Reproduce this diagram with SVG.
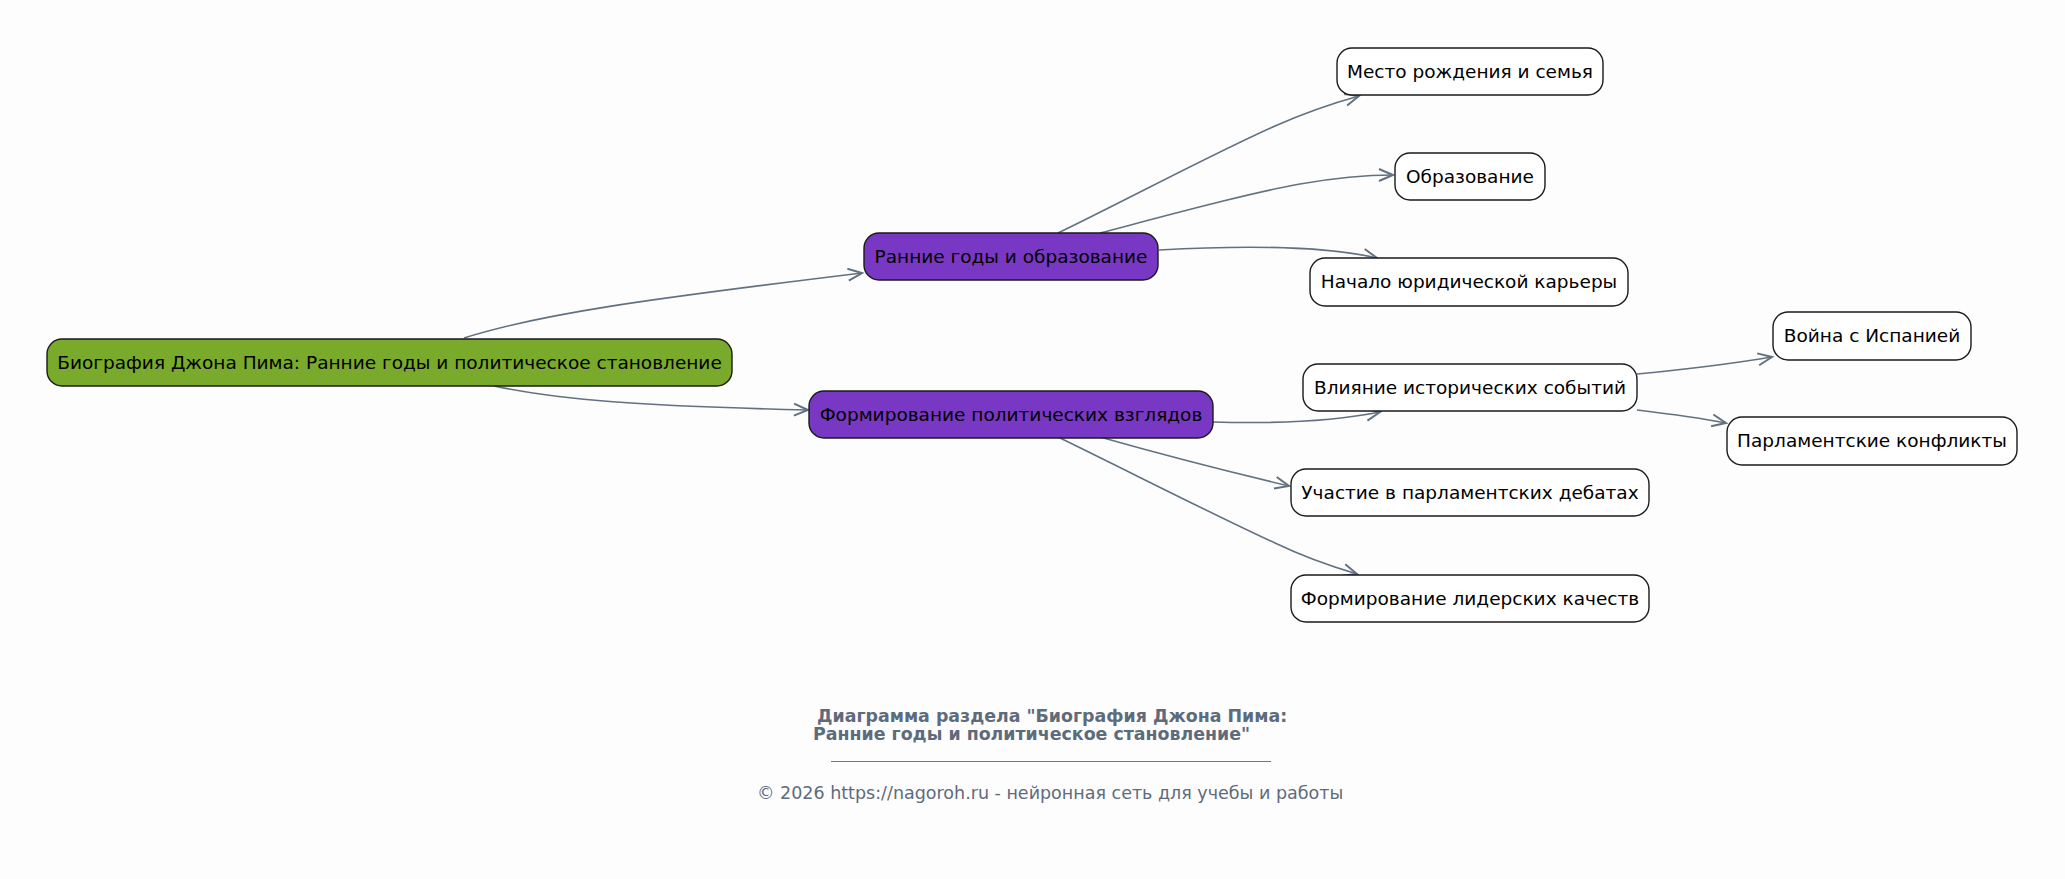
<svg xmlns="http://www.w3.org/2000/svg" width="2065" height="879" viewBox="0 0 2065 879">
<defs>
<style>
.node rect{stroke:#1a1a1a;stroke-width:1.4}
.leaf rect{fill:#ffffff}
.root rect{fill:#79aa2b}
.mid rect{fill:#7838c3}
.node text{font-family:"DejaVu Sans","Noto Sans",sans-serif;font-size:18.5px;fill:#000;text-anchor:middle}
.edges path{fill:none;stroke:#627181;stroke-width:1.6}
.foot{font-family:"DejaVu Sans","Noto Sans",sans-serif;fill:#5d6b7b}
</style>
<marker id="vee" markerUnits="userSpaceOnUse" markerWidth="18" markerHeight="16" refX="15" refY="7" orient="auto" viewBox="0 0 18 14">
<path d="M1,1 L15,7 L1,13" fill="none" stroke="#627181" stroke-width="2" stroke-linejoin="miter"/>
</marker>
</defs>
<rect width="2065" height="879" fill="#fdfdfd"/>
<g class="edges">
<path d="M464,338 C540,314 640,300 862,273" marker-end="url(#vee)"/>
<path d="M494,386 C560,400 640,406 808,410" marker-end="url(#vee)"/>
<path d="M1058,233 C1130,198 1220,150 1275,126 C1300,115 1330,104 1359,96" marker-end="url(#vee)"/>
<path d="M1100,233 C1180,212 1250,193 1300,184 C1340,177 1370,175 1393,175" marker-end="url(#vee)"/>
<path d="M1159,250 C1230,246 1320,245 1377,258" marker-end="url(#vee)"/>
<path d="M1213,422 C1280,424 1340,420 1380,412" marker-end="url(#vee)"/>
<path d="M1100,437 C1160,454 1230,472 1289,486" marker-end="url(#vee)"/>
<path d="M1058,437 C1130,472 1220,518 1275,543 C1300,555 1330,566 1357,574" marker-end="url(#vee)"/>
<path d="M1637,374 C1690,369 1730,364 1772,357" marker-end="url(#vee)"/>
<path d="M1637,410 C1670,414 1700,418 1726,423" marker-end="url(#vee)"/>
</g>
<g id="root" class="node root"><rect x="47" y="339" width="685" height="47" rx="15"/><text x="389.5" y="368.5">Биография Джона Пима: Ранние годы и политическое становление</text></g>
<g id="n1" class="node mid"><rect x="864" y="233" width="294" height="47" rx="15"/><text x="1011" y="262.5">Ранние годы и образование</text></g>
<g id="n2" class="node mid"><rect x="809" y="391" width="404" height="47" rx="15"/><text x="1011" y="420.5">Формирование политических взглядов</text></g>
<g id="l1" class="node leaf"><rect x="1337" y="48" width="266" height="47" rx="15"/><text x="1470" y="77.5">Место рождения и семья</text></g>
<g id="l2" class="node leaf"><rect x="1395" y="153" width="150" height="47" rx="15"/><text x="1470" y="182.5">Образование</text></g>
<g id="l3" class="node leaf"><rect x="1310" y="258" width="318" height="48" rx="15"/><text x="1469" y="288">Начало юридической карьеры</text></g>
<g id="l4" class="node leaf"><rect x="1303" y="364" width="334" height="47" rx="15"/><text x="1470" y="393.5">Влияние исторических событий</text></g>
<g id="l5" class="node leaf"><rect x="1291" y="469" width="358" height="47" rx="15"/><text x="1470" y="498.5">Участие в парламентских дебатах</text></g>
<g id="l6" class="node leaf"><rect x="1291" y="575" width="358" height="47" rx="15"/><text x="1470" y="604.5">Формирование лидерских качеств</text></g>
<g id="l7" class="node leaf"><rect x="1773" y="312" width="198" height="48" rx="15"/><text x="1872" y="342">Война с Испанией</text></g>
<g id="l8" class="node leaf"><rect x="1727" y="417" width="290" height="48" rx="15"/><text x="1872" y="447">Парламентские конфликты</text></g>
<g id="footer">
<text class="foot" x="817" y="722" font-size="17.4" font-weight="bold">Диаграмма раздела "Биография Джона Пима:</text>
<text class="foot" x="813" y="740" font-size="17.4" font-weight="bold">Ранние годы и политическое становление"</text>
<line x1="831" y1="761.5" x2="1271" y2="761.5" stroke="#6d7a88" stroke-width="1"/>
<text class="foot" x="757" y="799" font-size="17.5">© 2026 https://nagoroh.ru - нейронная сеть для учебы и работы</text>
</g>
</svg>
